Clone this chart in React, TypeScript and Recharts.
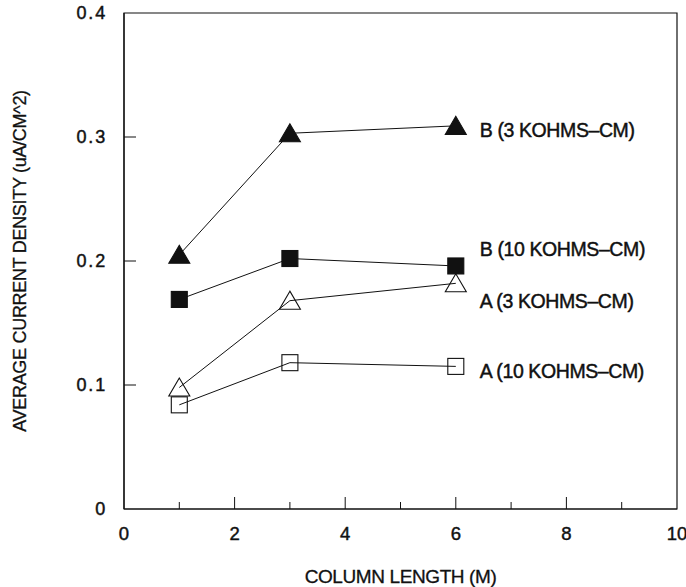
import React from 'react';
import { LineChart, Line, XAxis, YAxis, ReferenceArea } from 'recharts';

// ---- data ----
const columnLengths = [1, 3, 6];
const b3Values = [0.205, 0.303, 0.309];
const b10Values = [0.169, 0.202, 0.196];
const a3Values = [0.098, 0.168, 0.182];
const a10Values = [0.084, 0.118, 0.115];

const seriesNames = ['B (3 KOHMS\u2013CM)', 'B (10 KOHMS\u2013CM)', 'A (3 KOHMS\u2013CM)', 'A (10 KOHMS\u2013CM)'];

const xMajorTicks = [0, 2, 4, 6, 8, 10];
const xMinorTicks = [1, 3, 5, 7, 9];
const yTicks = [0, 0.1, 0.2, 0.3, 0.4];
const yTickLabels = ['0', '0.1', '0.2', '0.3', '0.4'];

const xTitle = 'COLUMN LENGTH (M)';
const yTitle = 'AVERAGE CURRENT DENSITY (uA/CM^2)';

const rows = columnLengths.map((x, i) => ({
  x,
  b3: b3Values[i],
  b10: b10Values[i],
  a3: a3Values[i],
  a10: a10Values[i],
}));

// ---- styles ----
const FONT = '"Liberation Sans", Arial, Helvetica, sans-serif';
const INK = '#111';
const TEXT_STROKE = 0.45;

type SeriesStyle = {
  key: string;
  name: string;
  shape: 'triangle' | 'square';
  filled: boolean;
  labelDy: number;
};

const seriesStyles: SeriesStyle[] = [
  { key: 'b3', name: seriesNames[0], shape: 'triangle', filled: true, labelDy: 5 },
  { key: 'b10', name: seriesNames[1], shape: 'square', filled: true, labelDy: -16 },
  { key: 'a3', name: seriesNames[2], shape: 'triangle', filled: false, labelDy: 19 },
  { key: 'a10', name: seriesNames[3], shape: 'square', filled: false, labelDy: 6 },
];

const makeDot = (s: SeriesStyle) => (props: any) => {
  const { cx, cy, index } = props;
  if (cx == null || cy == null) return <g key={`${s.key}-${index}`} />;
  const fill = s.filled ? INK : 'none';
  let marker;
  if (s.shape === 'triangle') {
    const hw = 10.5;
    const pts = `${cx},${cy - 9.5} ${cx - hw},${cy + 8.5} ${cx + hw},${cy + 8.5}`;
    marker = <polygon points={pts} fill={fill} stroke={INK} strokeWidth={1.1} />;
  } else {
    const h = 8;
    marker = <rect x={cx - h} y={cy - h} width={2 * h} height={2 * h} fill={fill} stroke={INK} strokeWidth={1.1} />;
  }
  const isLast = index === columnLengths.length - 1;
  return (
    <g key={`${s.key}-${index}`}>
      {marker}
      {isLast && (
        <text
          x={cx + 24}
          y={cy + s.labelDy}
          dy={6}
          fontFamily={FONT}
          fontSize={19.5}
          fill={INK}
          stroke={INK}
          strokeWidth={TEXT_STROKE}
          letterSpacing={-0.4}
        >
          {s.name}
        </text>
      )}
    </g>
  );
};

const XTick = (props: any) => {
  const { x, y, payload } = props;
  const v = payload.value;
  const major = xMajorTicks.includes(v);
  return (
    <g>
      {v !== 0 && v !== 10 && (
        <line x1={x} x2={x} y1={y} y2={y - (major ? 12 : 7)} stroke={INK} strokeWidth={1} />
      )}
      {major && (
        <text
          x={x}
          y={y + 31}
          textAnchor="middle"
          fontFamily={FONT}
          fontSize={18.5}
          fill={INK}
          stroke={INK}
          strokeWidth={TEXT_STROKE}
        >
          {v}
        </text>
      )}
    </g>
  );
};

const YTick = (props: any) => {
  const { x, y, payload } = props;
  const v = payload.value;
  const idx = yTicks.indexOf(v);
  const label = idx >= 0 ? yTickLabels[idx] : String(v);
  return (
    <g>
      {v !== 0 && v !== 0.4 && (
        <line x1={x} x2={x + 12} y1={y} y2={y} stroke={INK} strokeWidth={1} />
      )}
      <text
        x={x - 17}
        y={y + 6}
        textAnchor="end"
        fontFamily={FONT}
        fontSize={18}
        fill={INK}
        stroke={INK}
        strokeWidth={TEXT_STROKE}
        letterSpacing={1.8}
      >
        {label}
      </text>
    </g>
  );
};

export default function App() {
  return (
    <div style={{ position: 'absolute', left: 0, top: 0, background: '#fff' }}>
      <LineChart
        width={686}
        height={587}
        data={rows}
        margin={{ top: 13, right: 9, left: 0, bottom: 0 }}
      >
        <XAxis
          dataKey="x"
          type="number"
          domain={[0, 10]}
          ticks={[...xMajorTicks, ...xMinorTicks].sort((a, b) => a - b)}
          tick={<XTick />}
          tickLine={false}
          tickSize={0}
          tickMargin={0}
          height={78}
          axisLine={{ stroke: INK, strokeWidth: 1.2 }}
          interval={0}
          allowDataOverflow
          label={{
            value: xTitle,
            position: 'insideBottom',
            offset: 4,
            style: { fontFamily: FONT, fontSize: 19, fill: INK, stroke: INK, strokeWidth: 0.3, letterSpacing: -0.4 },
          }}
        />
        <YAxis
          type="number"
          domain={[0, 0.4]}
          ticks={yTicks}
          tick={<YTick />}
          tickLine={false}
          tickSize={0}
          tickMargin={0}
          width={124}
          interval={0}
          axisLine={{ stroke: INK, strokeWidth: 1.2 }}
          allowDataOverflow
          label={{
            value: yTitle,
            angle: -90,
            position: 'insideLeft',
            offset: 20,
            style: { fontFamily: FONT, fontSize: 18, fill: INK, stroke: INK, strokeWidth: 0.3, textAnchor: 'middle', letterSpacing: -0.3 },
          }}
        />
        <ReferenceArea
          x1={0}
          x2={10}
          y1={0}
          y2={0.4}
          fill="none"
          fillOpacity={0}
          stroke={INK}
          strokeWidth={1.2}
          ifOverflow="visible"
        />
        {seriesStyles.map((s) => (
          <Line
            key={s.key}
            dataKey={s.key}
            type="linear"
            stroke={INK}
            strokeWidth={1}
            dot={makeDot(s)}
            activeDot={false}
            isAnimationActive={false}
          />
        ))}
      </LineChart>
    </div>
  );
}
